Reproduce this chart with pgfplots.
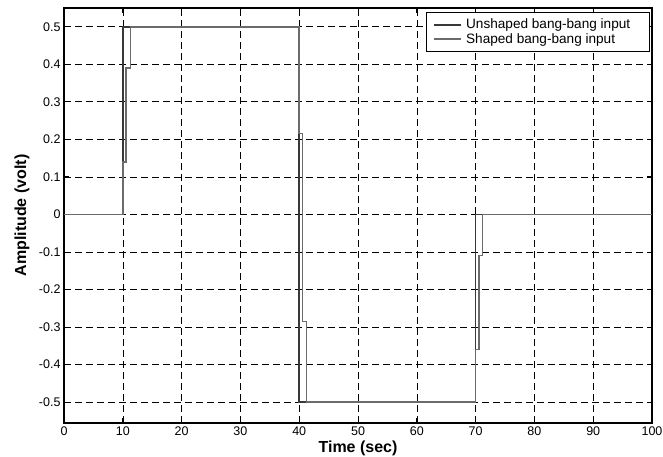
\documentclass[border=0pt]{standalone}
\usepackage{fontspec}
\setmainfont{Liberation Sans}
\usepackage{pgfplots}
\pgfplotsset{compat=1.18}
\begin{document}
\begin{tikzpicture}
\begin{axis}[
  scale only axis,
  width=588pt, height=415pt,
  xmin=0, xmax=100, ymin=-0.556, ymax=0.55,
  xtick={0,10,...,100},
  ytick={-0.5,-0.4,-0.3,-0.2,-0.1,0,0.1,0.2,0.3,0.4,0.5},
  yticklabels={-0.5,-0.4,-0.3,-0.2,-0.1,0,0.1,0.2,0.3,0.4,0.5},
  /pgf/number format/assume math mode=true,
  ticklabel style={font=\fontsize{12.5}{14}\selectfont},
  tick align=inside,
  major tick length=5pt,
  tick style={black, line width=0.7pt},
  axis line style={black, line width=1.3pt},
  grid=major,
  major grid style={black, line width=0.6pt, dash pattern=on 7pt off 4pt},
  xlabel={Time (sec)},
  ylabel={Amplitude (volt)},
  every axis x label/.style={at={(axis description cs:0.5,0)}, anchor=center, yshift=-25pt, font=\fontsize{16}{18}\selectfont\bfseries},
  every axis y label/.style={at={(axis description cs:-0.0714,0.5)}, rotate=90, anchor=center, font=\fontsize{16}{18}\selectfont\bfseries},
  legend style={at={(axis description cs:0.997,0.99)}, anchor=north east,
    draw=black, line width=1pt, font=\fontsize{13.6}{15}\selectfont,
    inner xsep=7pt, inner ysep=5pt, row sep=0pt, nodes={inner sep=1.5pt}},
  legend cell align=left,
  legend image code/.code={\draw[#1] (0pt,0pt) -- (27pt,0pt); \path (30pt,0pt);},
]
\addplot[color=black!78, line width=1.6pt] coordinates {
 (0,0) (10,0) (10,0.5) (40,0.5) (40,-0.5) (70,-0.5) (70,0) (100,0)
};
\addlegendentry{Unshaped bang-bang input\hspace*{11pt}}
\addplot[color=black!58, line width=1.5pt] coordinates {
 (0,0) (10,0) (10,0.14) (10.55,0.14) (10.55,0.39) (11.3,0.39) (11.3,0.5)
 (40,0.5) (40,0.215) (40.55,0.215) (40.55,-0.285) (41.25,-0.285) (41.25,-0.5)
 (70,-0.5) (70,-0.36) (70.55,-0.36) (70.55,-0.11) (71.2,-0.11) (71.2,0) (100,0)
};
\addlegendentry{Shaped bang-bang input}
\end{axis}
\pgfresetboundingbox
\path[use as bounding box] (-64pt,-34pt) rectangle (599pt,423pt);
\end{tikzpicture}
\end{document}
